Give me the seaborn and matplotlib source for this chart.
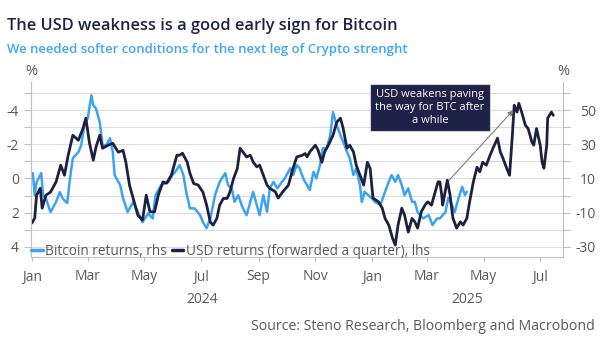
import matplotlib
matplotlib.use("Agg")
import matplotlib.pyplot as plt
import matplotlib.dates as mdates
import matplotlib.transforms as mtransforms
from matplotlib.ticker import FixedLocator
from matplotlib.lines import Line2D
import pandas as pd
import seaborn as sns

# ---------------- data ----------------
start_date = "2024-01-01"

# USD returns (forwarded a quarter), lhs (inverted), x = days after start_date
usd_day = [0, 3, 5, 9, 11, 15, 20, 26, 31, 35,
           39, 44, 50, 55, 58, 62, 66, 69, 73, 76,
           82, 87, 93, 98, 101, 105, 109, 114, 119, 123,
           127, 132, 136, 141, 145, 150, 156, 159, 162, 167,
           170, 174, 179, 184, 188, 192, 195, 199, 202, 206,
           210, 213, 217, 221, 224, 227, 231, 235, 238, 242,
           245, 249, 253, 256, 262, 265, 270, 276, 281, 285,
           291, 294, 296, 299, 305, 308, 312, 315, 319, 324,
           328, 332, 335, 339, 342, 346, 349, 353, 357, 361,
           364, 367, 373, 377, 380, 384, 388, 391, 394, 398,
           401, 405, 409, 412, 415, 419, 423, 426, 430, 434,
           437, 439, 441, 442, 447, 450, 453, 457, 461, 464,
           468, 471, 475, 479, 482, 485, 489, 493, 496, 501,
           504, 507, 511, 514, 517, 519, 522, 524, 527, 531,
           534, 538, 540, 543, 547, 549, 551, 554, 555, 559,
           561]
usd_ret = [2.61, 2.32, 0.98, 0.57, 1.74, 0.98, 0.80, 0.20, -0.78, -0.19,
           -1.36, -2.53, -2.24, -2.94, -3.53, -2.06, -1.07, -1.85, -2.53, -1.77,
           -1.95, -2.06, -1.54, -1.65, -0.97, 0.39, 1.17, 2.15, 2.44, 0.98,
           1.95, 1.95, 0.98, 0.20, 0.27, -0.19, -1.36, -1.36, -1.48, -0.97,
           -0.31, 0.29, 0.39, 0.80, 1.56, 2.56, 2.73, 2.34, 1.56, 1.17,
           1.17, 0.80, 0.00, -0.58, -1.77, -1.56, -1.26, -1.36, -0.97, -0.68,
           -0.78, -0.19, 0.39, 0.58, 0.78, 1.15, 0.78, 0.39, -0.60, -1.26,
           -1.36, -1.46, -1.26, -1.56, -1.95, -1.65, -0.95, -1.56, -1.95, -2.53,
           -3.29, -3.53, -2.92, -1.77, -1.95, -1.56, -0.78, -0.19, 0.39, -0.95,
           -0.58, 1.15, 1.37, 1.74, 2.34, 2.73, 3.49, 3.90, 2.73, 1.74,
           2.15, 3.14, 2.34, 2.54, 2.91, 1.95, 1.56, 1.37, 1.56, 0.78,
           0.20, 0.20, 0.98, 1.56, 0.10, 0.98, 2.32, 2.91, 2.54, 2.73,
           2.34, 1.37, 0.20, -0.66, -0.39, -0.95, -0.78, -1.36, -1.75, -2.36,
           -1.56, -1.17, -0.58, -0.19, -2.53, -4.29, -3.89, -4.40, -3.89, -3.12,
           -2.92, -2.14, -1.95, -2.92, -1.95, -0.95, -0.60, -1.95, -3.53, -3.89,
           -3.70]

# Bitcoin returns, rhs, x = days after start_date
btc_day = [1, 3, 5, 10, 12, 15, 20, 26, 30, 33,
           38, 41, 44, 50, 53, 57, 60, 64, 66, 69,
           73, 76, 80, 84, 87, 89, 95, 98, 103, 109,
           114, 119, 125, 130, 133, 139, 144, 147, 151, 154,
           159, 163, 166, 170, 175, 181, 184, 188, 192, 197,
           202, 208, 211, 215, 218, 222, 227, 231, 235, 238,
           242, 245, 249, 253, 256, 260, 264, 269, 272, 278,
           281, 285, 288, 292, 296, 299, 303, 306, 310, 313,
           317, 321, 324, 328, 332, 335, 339, 342, 346, 349,
           353, 355, 358, 362, 366, 369, 375, 380, 384, 387,
           391, 394, 398, 401, 405, 409, 412, 415, 421, 427,
           431, 436, 439, 445, 448, 452, 455, 459, 463, 466,
           468]
btc_ret = [13.1, 0.2, 7.8, 13.1, 0.2, -1.7, -9.7, -3.7, 2.0, -1.7,
           -4.4, 10.2, 21.9, 25.4, 29.5, 42.9, 45.1, 58.7, 52.9, 50.9,
           42.9, 29.5, 29.5, 33.6, 25.6, 12.0, 6.1, -1.5, -9.7, -3.7,
           -9.7, -15.6, -10.5, -13.4, 0.2, 6.1, 7.2, 8.0, 12.0, 13.7,
           17.8, 12.0, 2.2, -7.5, -7.5, -11.5, -15.6, -19.1, -13.4, 0.2,
           8.0, 13.1, 6.1, 4.2, -3.7, 0.2, -7.5, -11.5, -3.7, 2.2,
           -5.6, -11.5, 0.2, -9.5, 4.3, 8.0, 4.2, 8.0, 10.0, 16.0,
           12.0, 17.8, 16.0, 10.0, 6.1, 3.2, 13.9, 10.0, 17.8, 27.7,
           27.5, 35.3, 48.8, 41.2, 35.3, 31.4, 25.6, 21.9, 12.0, 15.8,
           6.1, -3.8, 2.2, 0.2, -1.7, -3.7, -5.6, 2.2, 8.0, 12.0,
           8.0, 12.0, 6.1, 0.2, 4.2, -3.7, -3.7, -9.7, -13.4, -11.5,
           -17.3, -13.4, -13.4, -9.7, -1.5, -5.6, -9.7, -1.7, 5.1, 0.2,
           2.2]

left_major = [-4, -2, 0, 2, 4]
left_minor = [-5, -3, -1, 1, 3]
right_major = [-30, -10, 10, 30, 50]
right_minor = [-20, 0, 20, 40, 60]
years = [2024, 2025]

title = "The USD weakness is a good early sign for Bitcoin"
subtitle = "We needed softer conditions for the next leg of Crypto strenght"
source = "Source: Steno Research, Bloomberg and Macrobond"
legend_labels = ["Bitcoin returns, rhs", "USD returns (forwarded a quarter), lhs"]
note = "USD weakens paving\nthe way for BTC after\na while"
arrow_from = ("2025-03-25", 0.1)
arrow_to = ("2025-06-02", -4.0)

# ---------------- style ----------------
NAVY = "#1c2141"
BLUE = "#3ca3f2"
TITLE_C = "#1f2341"
SUB_C = "#3ea6f5"
GRAY = "#595959"
AXC = "#bfbfbf"
GRID = "#dcdcdc"
BOX = "#1e2246"

sns.set_style("white")
plt.rcParams["font.family"] = ["Open Sans", "DejaVu Sans"]

base = pd.Timestamp(start_date)
usd = pd.DataFrame({"date": base + pd.to_timedelta(usd_day, unit="D"), "value": usd_ret})
btc = pd.DataFrame({"date": base + pd.to_timedelta(btc_day, unit="D"), "value": btc_ret})

fig = plt.figure(figsize=(6.02, 3.44), dpi=100)
ax = fig.add_axes([31 / 602, 1 - 257 / 344, (563 - 31) / 602, (257 - 82) / 344])
ax2 = ax.twinx()

sns.lineplot(data=btc, x="date", y="value", ax=ax2, color=BLUE, lw=1.8, legend=False)
sns.lineplot(data=usd, x="date", y="value", ax=ax, color=NAVY, lw=2.0, legend=False)

ax.set_zorder(ax2.get_zorder() + 1)
ax.patch.set_visible(False)

xmin = pd.Timestamp("2023-12-31")
xmax = pd.Timestamp("2025-07-25 12:00")
ax.set_xlim(xmin, xmax)
ax.set_ylim(4.6, -5.65)
ax2.set_ylim(-36, 66.5)

for a in (ax, ax2):
    a.set_xlabel("")
    a.set_ylabel("")

ax.yaxis.set_major_locator(FixedLocator(left_major))
ax.yaxis.set_minor_locator(FixedLocator(left_minor))
ax2.yaxis.set_major_locator(FixedLocator(right_major))
ax2.yaxis.set_minor_locator(FixedLocator(right_minor))
ax.set_yticklabels([f"{v:g}" for v in left_major])
ax2.set_yticklabels([f"{v:g}" for v in right_major])

ax.tick_params(axis="y", which="both", left=True, length=5, width=0.8, color=AXC,
               labelcolor=GRAY, labelsize=10, pad=3.6)
ax2.tick_params(axis="y", which="both", right=True, length=5, width=0.8, color=AXC,
                labelcolor=GRAY, labelsize=10, pad=18.7)
for lbl in ax2.get_yticklabels():
    lbl.set_horizontalalignment("right")

ax2.grid(True, which="both", axis="y", color=GRID, lw=0.8)
ax.grid(False)

ax.xaxis.set_major_locator(mdates.MonthLocator(bymonth=[1, 3, 5, 7, 9, 11]))
ax.xaxis.set_major_formatter(mdates.DateFormatter("%b"))
ax.tick_params(axis="x", bottom=True, length=3, width=0.8, color=AXC, labelcolor=GRAY,
               labelsize=10, pad=6)

for s in ("top", "right"):
    ax.spines[s].set_visible(False)
for s in ("left", "bottom"):
    ax.spines[s].set_color(AXC)
    ax.spines[s].set_linewidth(0.8)
for s in ("top", "left", "bottom"):
    ax2.spines[s].set_visible(False)
ax2.spines["right"].set_color(AXC)
ax2.spines["right"].set_linewidth(0.8)

# year labels centred on visible part of each year
blend = mtransforms.blended_transform_factory(ax.transData, ax.transAxes)
for yr in years:
    s = max(xmin, pd.Timestamp(year=yr, month=1, day=1))
    e = min(xmax, pd.Timestamp(year=yr + 1, month=1, day=1))
    mid = s + (e - s) / 2
    ax.text(mdates.date2num(mid), -0.245, str(yr), transform=blend, ha="center",
            va="center", fontsize=10, color=GRAY)

# percent unit labels
ax.text(0.0, 1.06, "%", transform=ax.transAxes, ha="center", va="center", fontsize=10.5, color=GRAY)
ax.text(1.0, 1.06, "%", transform=ax.transAxes, ha="center", va="center", fontsize=10.5, color=GRAY)

# legend
handles = [Line2D([], [], color=BLUE, lw=2.5), Line2D([], [], color=NAVY, lw=2.5)]
def make_legend(fs):
    return ax.legend(handles, legend_labels, loc="lower left", bbox_to_anchor=(0.0, -0.01),
                     ncol=2, frameon=False, fontsize=fs, handlelength=0.85,
                     handletextpad=0.2, columnspacing=0.35, borderpad=0, borderaxespad=0,
                     labelcolor=GRAY)
leg = make_legend(9.6)
fig.canvas.draw()
w = leg.get_window_extent(fig.canvas.get_renderer()).width
leg = make_legend(9.6 * 402 / w)

# annotation
ax.text(0.75, 0.854, note, transform=ax.transAxes, ha="center", va="center", color="white",
        fontsize=8, linespacing=1.3, zorder=6,
        bbox=dict(boxstyle="square,pad=0.45", fc=BOX, ec="#cfcfcf", lw=0.8))
ax.annotate("", xy=(mdates.date2num(pd.Timestamp(arrow_to[0])), arrow_to[1]),
            xytext=(mdates.date2num(pd.Timestamp(arrow_from[0])), arrow_from[1]),
            arrowprops=dict(arrowstyle="-|>", color="#7f7f7f", lw=0.8, mutation_scale=8,
                            shrinkA=0, shrinkB=0), zorder=6)

# titles & source
t1 = fig.text(7 / 602, 1 - 30 / 344, title, ha="left", va="baseline", fontsize=13,
              fontweight="semibold", color=TITLE_C)
t2 = fig.text(7 / 602, 1 - 53 / 344, subtitle, ha="left", va="baseline", fontsize=10,
              fontweight="semibold", color=SUB_C)
t3 = fig.text(595 / 602, 1 - 330 / 344, source, ha="right", va="baseline", fontsize=10,
              color=GRAY)

def fit(t, target):
    fig.canvas.draw()
    ww = t.get_window_extent(fig.canvas.get_renderer()).width
    t.set_fontsize(t.get_fontsize() * target / ww)

fit(t1, 389)
fit(t2, 400)
fit(t3, 341)

fig.savefig("out.png", dpi=100)
